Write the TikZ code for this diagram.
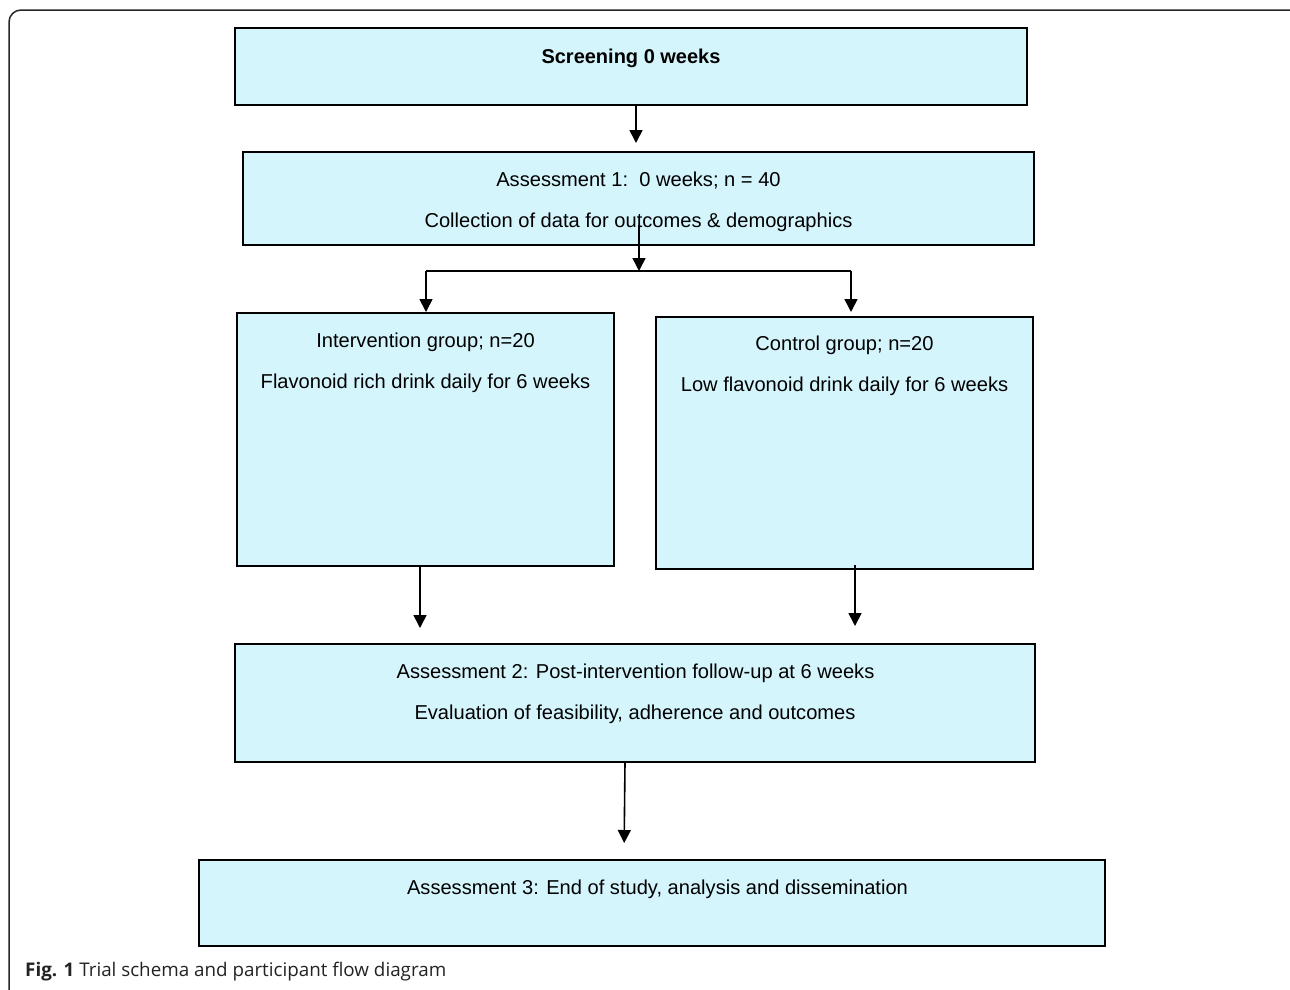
\documentclass[tikz,border=0pt]{standalone}
\usepackage{fontspec}
\setmainfont{Liberation Sans}
\newfontfamily\capfont{Open Sans}
\usetikzlibrary{arrows.meta,calc}
\definecolor{boxfill}{RGB}{213,245,253}
\definecolor{capgrey}{RGB}{35,35,35}
\begin{document}
\begin{tikzpicture}[x=1pt,y=-1pt,
  box/.style={draw=black,line width=1.3pt,fill=boxfill,inner sep=0pt,outer sep=0pt},
  txt/.style={font=\fontsize{20.1}{24}\selectfont,anchor=base,inner sep=0pt},
  arr/.style={line width=1.6pt,-{Triangle[width=13pt,length=13pt]}},
  ln/.style={line width=1.6pt}]
\clip (0,0) rectangle (1290,989);
\useasboundingbox (0,0) rectangle (1290,989);
\fill[white] (0,0) rectangle (1290,989);
\draw[line width=1.5pt,black!85,rounded corners=12pt] (9,10) rectangle (1302,1010);

% boxes
\node[box,minimum width=792pt,minimum height=77pt] (scr) at (631,66.5) {};
\node[box,minimum width=791pt,minimum height=93pt] (a1) at (638.5,198.5) {};
\node[box,minimum width=377pt,minimum height=253pt] (int) at (425.5,439.5) {};
\node[box,minimum width=377pt,minimum height=252pt] (ctl) at (844.5,443) {};
\node[box,minimum width=800pt,minimum height=118pt] (a2) at (635,703) {};
\node[box,minimum width=906pt,minimum height=86pt] (a3) at (652,903) {};

% texts
\node[txt,font=\fontsize{20}{24}\selectfont\bfseries] (t0) at (631,63) {Screening 0 weeks};
\node[txt] (t1a) at (638.5,186) {Assessment 1:\ \ 0 weeks; n = 40};
\node[txt] (t1b) at (638.5,227) {Collection of data for outcomes \& demographics};
\node[txt] (t2a) at (425.5,347) {Intervention group; n=20};
\node[txt] (t2b) at (425.5,388) {Flavonoid rich drink daily for 6 weeks};
\node[txt] (t3a) at (844.5,350) {Control group; n=20};
\node[txt] (t3b) at (844.5,391) {Low flavonoid drink daily for 6 weeks};
\node[txt] (t4a) at (635.5,678) {Assessment 2: Post-intervention follow-up at 6 weeks};
\node[txt] (t4b) at (635,719) {Evaluation of feasibility, adherence and outcomes};
\node[txt] (t5) at (657.5,894) {Assessment 3: End of study, analysis and dissemination};

% connectors
\coordinate (split) at (639,271);
\coordinate (L) at (426,271);
\coordinate (R) at (851,271);
\draw[arr,shorten >=9pt] ([xshift=5pt]scr.south) -- ([xshift=-2.5pt]a1.north);
\draw[arr] ([xshift=0.5pt,yshift=20pt]a1.south) -- (split);
\draw[ln] (L) -- (R);
\draw[arr,shorten >=1pt] (L) -- (int.north -| L);
\draw[arr,shorten >=5pt] (R) -- (ctl.north -| R);
\draw[arr,shorten >=16pt] (int.south -| 420,0) -- (a2.north -| 420,0);
\draw[arr,shorten >=18pt] ([yshift=4pt]ctl.south -| 855,0) -- (a2.north -| 855,0);
\draw[arr,shorten >=17pt] ([xshift=-10pt]a2.south) -- ([xshift=-28pt]a3.north);

% caption
\node[anchor=base west,inner sep=0pt,text=capgrey,font=\capfont\fontsize{18.8}{22}\selectfont] (cap) at (25,976) {\textbf{Fig. 1} Trial schema and participant flow diagram};
\end{tikzpicture}
\end{document}
